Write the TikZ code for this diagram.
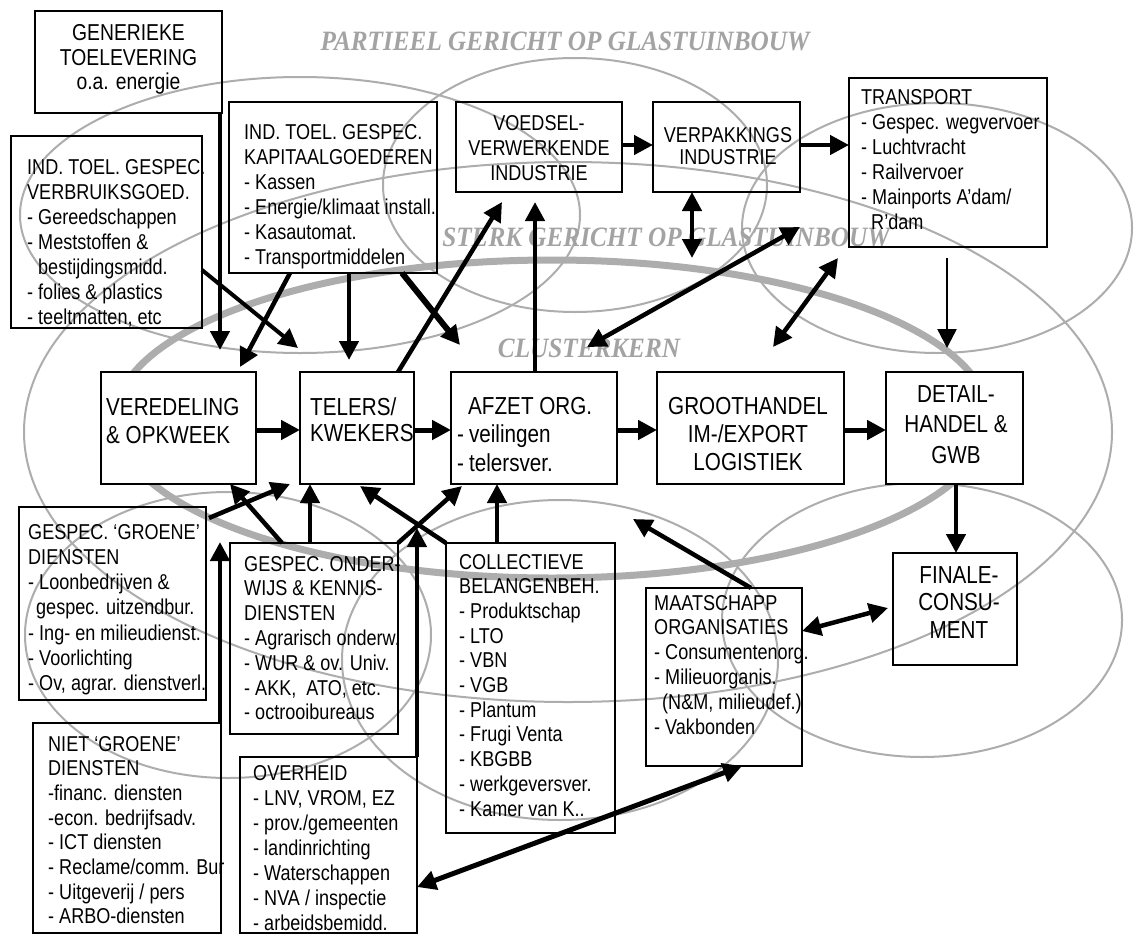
\documentclass[tikz,border=0pt]{standalone}
\usepackage{fontspec}
\setmainfont{Liberation Sans}[FakeStretch=0.84]
\newfontfamily\lblfont{Liberation Serif}[FakeStretch=0.9]
\usetikzlibrary{arrows.meta}
\definecolor{ellc}{gray}{0.68}
\definecolor{lblc}{gray}{0.64}
\newcommand\tlines[4]{{\fontsize{#1}{#2}\selectfont\begin{tabular}[t]{@{}#3@{}}#4\end{tabular}}}
\begin{document}
\begin{tikzpicture}[x=1pt,y=-1pt,
 box/.style={draw, line width=1.4pt, inner sep=0pt, outer sep=0pt},
 mbox/.style={box, fill=white},
 arr/.style={line width=4.5pt, -{Triangle[length=19pt,width=19pt]}},
 darr/.style={line width=4.5pt, {Triangle[length=19pt,width=19pt]}-{Triangle[length=19pt,width=19pt]}},
 thinell/.style={draw=ellc, line width=2pt},
 thickell/.style={draw=ellc, line width=7pt},
 lbl/.style={text=lblc, font=\lblfont\bfseries\itshape\fontsize{28}{30}\selectfont, inner sep=0pt, anchor=base},
 tx/.style={inner sep=0pt, anchor=base west},
 txc/.style={inner sep=0pt, anchor=base},
]
\useasboundingbox (0,0) rectangle (1139,934);
\fill[white] (0,0) rectangle (1139,934);

% background ellipses
\draw[thickell] (552,419) ellipse [x radius=437pt, y radius=159pt];
\draw[thinell] (300,215) ellipse [x radius=280pt, y radius=138pt];
\draw[thinell] (575,185) ellipse [x radius=192pt, y radius=127pt];
\draw[thinell] (937,228) ellipse [x radius=195pt, y radius=125pt];
\draw[thinell] (568,432) ellipse [x radius=544pt, y radius=270pt];
\draw[thinell] (228,635) ellipse [x radius=203pt, y radius=143pt];
\draw[thinell] (922,620) ellipse [x radius=200pt, y radius=137pt];
\draw[thinell] (560,660) ellipse [x radius=218pt, y radius=160pt];

% grey labels
\node[lbl] (lpart) at (565,51) {PARTIEEL GERICHT OP GLASTUINBOUW};
\node[lbl] (lsterk) at (666,246) {STERK GERICHT OP GLASTUINBOUW};
\node[lbl] (lkern) at (589,357) {CLUSTERKERN};

% boxes
\node[box, minimum width=187pt, minimum height=102pt] (gen) at (128.5,62) {};
\node[box, minimum width=191pt, minimum height=192pt] (verb) at (106.5,232) {};
\node[box, minimum width=208pt, minimum height=171pt] (kap) at (333,187.5) {};
\node[box, minimum width=166pt, minimum height=90pt] (voed) at (539,147) {};
\node[box, minimum width=147pt, minimum height=90pt] (verp) at (726.5,147) {};
\node[box, minimum width=198pt, minimum height=169pt] (trans) at (948,162.5) {};
\node[mbox, minimum width=155pt, minimum height=112pt] (ver) at (178.5,428) {};
\node[mbox, minimum width=114pt, minimum height=112pt] (tel) at (357,428) {};
\node[mbox, minimum width=166pt, minimum height=112pt] (afz) at (534,428) {};
\node[mbox, minimum width=187pt, minimum height=112pt] (groot) at (750.5,428) {};
\node[mbox, minimum width=137pt, minimum height=112pt] (det) at (954.5,428) {};
\node[box, minimum width=124pt, minimum height=112pt] (fin) at (955,609) {};
\node[box, minimum width=187pt, minimum height=193pt] (groen) at (112.5,603.5) {};
\node[box, minimum width=168pt, minimum height=191pt] (ond) at (314,638.5) {};
\node[box, minimum width=169pt, minimum height=290pt] (coll) at (530.5,688) {};
\node[box, minimum width=156pt, minimum height=178pt] (maat) at (724,677) {};
\node[box, minimum width=188pt, minimum height=210pt] (niet) at (127,828) {};
\node[box, minimum width=177pt, minimum height=176pt] (overh) at (328.5,845) {};

% texts
\node[txc] (tgen) at (128.5,41) {\tlines{23}{24.5}{c}{GENERIEKE\\TOELEVERING\\o.a. energie}};
\node[tx] (tverb) at (27,174) {\tlines{21.5}{25}{l}{IND. TOEL. GESPEC.\\VERBRUIKSGOED.\\- Gereedschappen\\- Meststoffen \&\\\hspace*{11pt}bestijdingsmidd.\\- folies \& plastics\\- teeltmatten, etc}};
\node[tx] (tkap) at (244,139) {\tlines{21.5}{25}{l}{IND. TOEL. GESPEC.\\KAPITAALGOEDEREN\\- Kassen\\- Energie/klimaat install.\\- Kasautomat.\\- Transportmiddelen}};
\node[txc] (tvoed) at (539,130) {\tlines{21.5}{25}{c}{VOEDSEL-\\VERWERKENDE\\INDUSTRIE}};
\node[txc] (tverp) at (728,142) {\tlines{21.5}{22}{c}{VERPAKKINGS\\INDUSTRIE}};
\node[tx] (ttrans) at (861,104) {\tlines{21.5}{25}{l}{TRANSPORT\\- Gespec. wegvervoer\\- Luchtvracht\\- Railvervoer\\- Mainports A'dam/\\\hspace*{10pt}R'dam}};
\node[tx] (tver) at (106,415) {\tlines{24.6}{28}{l}{VEREDELING\\\& OPKWEEK}};
\node[tx] (ttel) at (310,415) {\tlines{24.6}{26}{l}{TELERS/\\KWEKERS}};
\node[tx] (tafz) at (457,414) {\tlines{24.6}{28.5}{l}{\hspace*{11pt}AFZET ORG.\\-\hspace{5pt}veilingen\\-\hspace{5pt}telersver.}};
\node[txc] (tgroot) at (748,414) {\tlines{24.6}{28}{c}{GROOTHANDEL\\IM-/EXPORT\\LOGISTIEK}};
\node[txc] (tdet) at (956,402) {\tlines{24.6}{30.5}{c}{DETAIL-\\HANDEL \&\\GWB}};
\node[txc] (tfin) at (959,583) {\tlines{24.6}{27.5}{c}{FINALE-\\CONSU-\\MENT}};
\node[tx] (tgroen) at (28,539) {\tlines{21.5}{25.3}{l}{GESPEC. `GROENE'\\DIENSTEN\\- Loonbedrijven \&\\\hspace*{8pt}gespec. uitzendbur.\\- Ing- en milieudienst.\\- Voorlichting\\- Ov, agrar. dienstverl.}};
\node[tx] (tond) at (244,571) {\tlines{21.5}{24.8}{l}{GESPEC. ONDER-\\WIJS \& KENNIS-\\DIENSTEN\\- Agrarisch onderw.\\- WUR \& ov. Univ.\\- AKK,\ \ ATO, etc.\\- octrooibureaus}};
\node[tx] (tcoll) at (459,569) {\tlines{21.5}{24.7}{l}{COLLECTIEVE\\BELANGENBEH.\\- Produktschap\\- LTO\\- VBN\\- VGB\\- Plantum\\- Frugi Venta\\- KBGBB\\- werkgeversver.\\- Kamer van K..}};
\node[tx] (tmaat) at (654,610) {\tlines{21.5}{24.8}{l}{MAATSCHAPP\\ORGANISATIES\\- Consumentenorg.\\- Milieuorganis.\\\hspace*{8pt}(N\&M, milieudef.)\\- Vakbonden}};
\node[tx] (tniet) at (48,751) {\tlines{21.5}{24.7}{l}{NIET `GROENE'\\DIENSTEN\\-financ. diensten\\-econ. bedrijfsadv.\\- ICT diensten\\- Reclame/comm. Bur\\- Uitgeverij / pers\\- ARBO-diensten}};
\node[tx] (toverh) at (253,780) {\tlines{21.5}{25}{l}{OVERHEID\\- LNV, VROM, EZ\\- prov./gemeenten\\- landinrichting\\- Waterschappen\\- NVA / inspectie\\- arbeidsbemidd.}};

% arrow end points
\coordinate (t1) at (220,350);
\coordinate (t2) at (298,348);
\coordinate (t3) at (240,367);
\coordinate (t4) at (349,360);
\coordinate (t5) at (460,345);
\coordinate (t6) at (502,202);
\coordinate (t7) at (535,202);
\coordinate (t10) at (692,258);
\coordinate (a11) at (587,347);
\coordinate (b11) at (800,227);
\coordinate (a12) at (773,347);
\coordinate (b12) at (838,258);
\coordinate (a13) at (947,258);
\coordinate (t13) at (947,348);
\coordinate (a19) at (209,518);
\coordinate (t19) at (290,484);
\coordinate (t22) at (360,486);
\coordinate (t23) at (462,486);
\coordinate (t24) at (417,528);
\coordinate (t26) at (220,542);
\coordinate (t27) at (633,519);
\coordinate (t28) at (888,608);

% arrows top
\draw[arr] (gen.south -| t1) -- (t1);
\draw[arr, line width=4pt] (verb.east |- 0,270) -- (t2);
\draw[arr] (kap.south -| 290,0) -- (t3);
\draw[arr] (kap.south -| t4) -- (t4);
\draw[arr, line width=6pt] (kap.south -| 402,0) -- (t5);
\draw[arr] (tel.north -| 398,0) -- (t6);
\draw[arr] (afz.north -| t7) -- (t7);
\draw[arr] (voed.east |- 0,145) -- (verp.west |- 0,145);
\draw[arr] (verp.east |- 0,145) -- (trans.west |- 0,145);
\draw[darr] (verp.south -| t10) -- (t10);
\draw[darr] (a11) -- (b11);
\draw[darr] (a12) -- (b12);
\draw[line width=2.5pt, -{Triangle[length=19pt,width=19pt]}] (a13) -- (t13);

% middle row
\draw[arr, line width=5pt] (ver.east |- 0,430) -- (tel.west |- 0,430);
\draw[arr, line width=5pt] (tel.east |- 0,430) -- (afz.west |- 0,430);
\draw[arr, line width=5pt] (afz.east |- 0,430) -- (groot.west |- 0,430);
\draw[arr, line width=5pt] (groot.east |- 0,430) -- (det.west |- 0,430);
\draw[arr] (det.south -| 956,0) -- (fin.north -| 956,0);

% bottom
\draw[arr] (a19) -- (t19);
\draw[arr] (ond.north -| 282,0) -- (ver.south -| 230,0);
\draw[arr] (ond.north -| 310,0) -- (tel.south -| 310,0);
\draw[arr] (coll.north west) -- (t22);
\draw[arr] (ond.north east) -- (t23);
\draw[arr] (overh.north east) -- (t24);
\draw[arr] (coll.north -| 497,0) -- (afz.south -| 497,0);
\draw[arr] (niet.north -| t26) -- (t26);
\draw[arr] (maat.north -| 751,0) -- (t27);
\draw[darr] (maat.east |- 0,631) -- (t28);
\draw[darr, line width=5pt] (overh.east |- 0,887) -- (maat.south -| 742,0);
\end{tikzpicture}
\end{document}
